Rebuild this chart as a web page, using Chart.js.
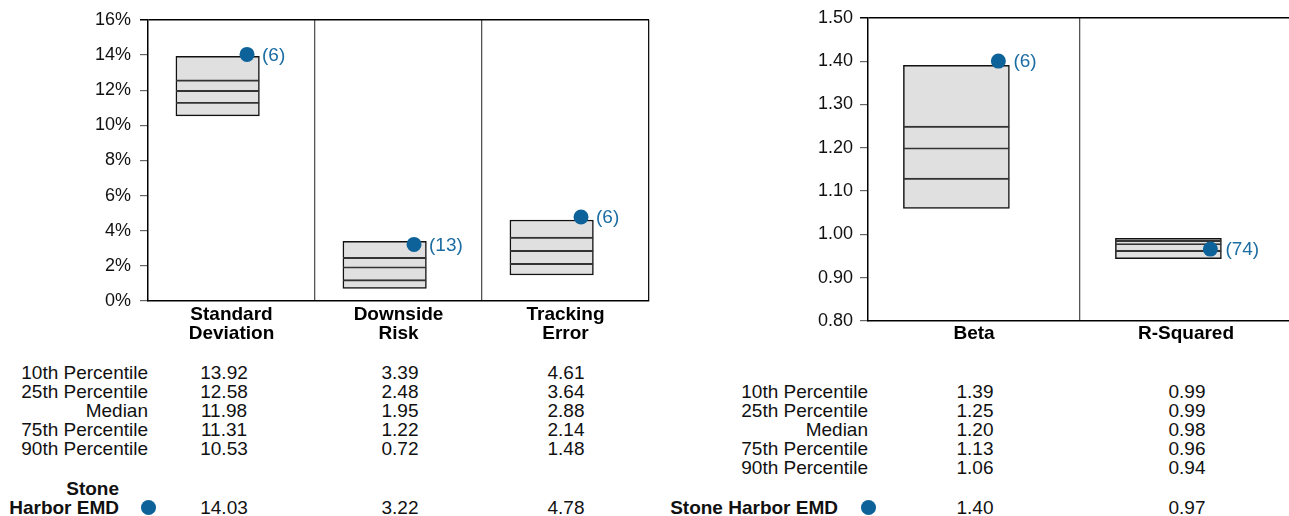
<!DOCTYPE html>
<html>
<head>
<meta charset="utf-8">
<script src="https://cdn.jsdelivr.net/npm/chart.js@4.4.1/dist/chart.umd.min.js"></script>
<style>
body { margin: 0; background: #fff; font-family: 'Liberation Sans', Arial, sans-serif; color: #111; }
#page { position: relative; width: 1289px; height: 516px; overflow: hidden; }
.box { position: absolute; top: 0; height: 350px; }
.t { position: absolute; font-size: 19px; line-height: 19px; white-space: nowrap; }
.r { text-align: right; }
.c { text-align: center; width: 100px; }
.b { font-weight: bold; }
.dot { position: absolute; width: 15px; height: 15px; border-radius: 50%; background: #0d6399; }
</style>
</head>
<body>
<div id="page">
  <div class="box" style="left:0;width:654px"><canvas id="leftChart"></canvas></div>
  <div class="box" style="left:660px;width:636px"><canvas id="rightChart"></canvas></div>
</div>
<script>
// row names of the tables under the charts
const rowNames = ['10th Percentile', '25th Percentile', 'Median', '75th Percentile', '90th Percentile'];
const fundName = 'Stone Harbor EMD';

// left panel: risk measures (%)
const leftCats = [['Standard', 'Deviation'], ['Downside', 'Risk'], ['Tracking', 'Error']];
const leftP10 = [13.92, 3.39, 4.61];
const leftP25 = [12.58, 2.48, 3.64];
const leftMed = [11.98, 1.95, 2.88];
const leftP75 = [11.31, 1.22, 2.14];
const leftP90 = [10.53, 0.72, 1.48];
const leftFund = [14.03, 3.22, 4.78];
const leftRank = [6, 13, 6];

// right panel: beta and r-squared
const rightCats = ['Beta', 'R-Squared'];
const rightP10 = [1.39, 0.991];
const rightP25 = [1.25, 0.986];
const rightMed = [1.20, 0.979];
const rightP75 = [1.13, 0.963];
const rightP90 = [1.06, 0.944];
const rightFund = [1.40, 0.966];
const rightRank = [6, 74];

const BOX_SHIFT = -0.083;
const BLUE = '#0d6399';
const NONE = 'rgba(0,0,0,0)';

const rankLabels = {
    id: 'rankLabels',
    afterDatasetsDraw(chart, args, opts) {
        const meta = chart.getDatasetMeta(opts.index);
        const ctx = chart.ctx;
        ctx.save();
        ctx.font = '19px "Liberation Sans", Arial, sans-serif';
        ctx.fillStyle = '#1b6da3';
        ctx.textBaseline = 'middle';
        ctx.textAlign = 'left';
        meta.data.forEach((pt, i) => {
            ctx.fillText('(' + opts.ranks[i] + ')', pt.x + 15, pt.y + 1);
        });
        ctx.restore();
    }
};

function makeChart(id, o) {
    const n = o.cats.length;
    const xs = o.cats.map((c, i) => i + 0.5);
    const barBase = {type: 'bar', grouped: false, barPercentage: 1, categoryPercentage: 1, borderSkipped: false};
    const datasets = [];
    // full 10th-90th box, drawn underneath
    datasets.push(Object.assign({}, barBase, {
        order: 3,
        data: xs.map((x, i) => ({x: x + BOX_SHIFT, y: [o.p90[i], o.p10[i]]})),
        backgroundColor: '#e0e0e0',
        borderColor: '#111',
        borderWidth: 1.5
    }));
    // 75th, median, 25th lines as the top edge of bars from the 90th
    [o.p75, o.med, o.p25].forEach(arr => {
        datasets.push(Object.assign({}, barBase, {
            order: 2,
            data: xs.map((x, i) => ({x: x + BOX_SHIFT, y: [o.p90[i], arr[i]]})),
            backgroundColor: NONE,
            borderColor: '#333',
            borderWidth: {top: 1.3, left: 0, right: 0, bottom: 0}
        }));
    });
    datasets.push({
        type: 'scatter',
        order: 0,
        data: xs.map((x, i) => ({x: x + o.dotShift, y: o.fund[i]})),
        pointRadius: 7.5,
        pointBackgroundColor: BLUE,
        pointBorderWidth: 0
    });

    return new Chart(document.getElementById(id), {
        type: 'bar',
        data: {datasets: datasets},
        plugins: [rankLabels],
        options: {
            responsive: true,
            maintainAspectRatio: false,
            animation: false,
            events: [],
            layout: {autoPadding: false, padding: {top: 17, left: 0, right: 0, bottom: 0}},
            plugins: {
                legend: {display: false},
                tooltip: {enabled: false},
                rankLabels: {index: datasets.length - 1, ranks: o.ranks}
            },
            scales: {
                x: {
                    type: 'linear', min: 0, max: n, offset: false,
                    ticks: {
                        stepSize: 0.5, autoSkip: false, maxRotation: 0, padding: o.xPad, color: '#000',
                        font: {size: 19, weight: 'bold', family: '"Liberation Sans", Arial, sans-serif', lineHeight: 0.96},
                        callback: v => (v % 1 === 0.5) ? o.cats[Math.floor(v)] : ''
                    },
                    grid: {
                        offset: false, drawTicks: false, lineWidth: 1.3,
                        color: c => {
                            const v = c.tick ? c.tick.value : 0;
                            if (v % 1 !== 0 || v === 0) return NONE;
                            if (v === n) return o.rightBorder ? '#111' : NONE;
                            return '#555';
                        }
                    },
                    border: {color: '#000', width: 1.5},
                    afterFit: s => { s.height = o.xHeight; }
                },
                y: {
                    min: o.min, max: o.max,
                    ticks: {
                        stepSize: o.step, padding: o.yPad, color: '#111',
                        font: {size: 18, family: '"Liberation Sans", Arial, sans-serif'},
                        callback: o.fmt
                    },
                    grid: {
                        tickLength: 8,
                        color: c => (c.tick && c.tick.value === o.max) ? '#000' : NONE,
                        tickColor: c => (c.tick && c.tick.value === o.max) ? '#000' : '#666',
                        lineWidth: c => (c.tick && c.tick.value === o.max) ? 1.5 : 1.2
                    },
                    border: {color: '#000', width: 1.5},
                    afterFit: s => { s.width = o.yWidth; }
                }
            }
        }
    });
}

makeChart('leftChart', {
    cats: leftCats, p10: leftP10, p25: leftP25, med: leftMed, p75: leftP75, p90: leftP90,
    fund: leftFund, ranks: leftRank, dotShift: 0.093,
    min: 0, max: 16, step: 2, fmt: v => v + '%',
    yWidth: 148, yPad: 9, xHeight: 49, xPad: 5, rightBorder: true
});

makeChart('rightChart', {
    cats: rightCats, p10: rightP10, p25: rightP25, med: rightMed, p75: rightP75, p90: rightP90,
    fund: rightFund, ranks: rightRank, dotShift: 0.115,
    min: 0.8, max: 1.5, step: 0.1, fmt: v => v.toFixed(2),
    yWidth: 208, yPad: 7, xHeight: 29, xPad: 4, rightBorder: false
});

// tables under the charts
const page = document.getElementById('page');
function addText(txt, cls, left, top) {
    const d = document.createElement('div');
    d.className = 't ' + cls;
    d.textContent = txt;
    d.style.left = left + 'px';
    d.style.top = top + 'px';
    page.appendChild(d);
    return d;
}
function addRight(txt, bold, rightEdge, centerY) {
    const d = addText(txt, 'r' + (bold ? ' b' : ''), 0, centerY - 9.5);
    d.style.left = 'auto';
    d.style.right = (1289 - rightEdge) + 'px';
}
function addDot(cx, cy) {
    const d = document.createElement('div');
    d.className = 'dot';
    d.style.left = (cx - 7.5) + 'px';
    d.style.top = (cy - 7.5) + 'px';
    page.appendChild(d);
}
function addTable(cols, labelRight, firstRowY, colCenters, fund, fundY) {
    rowNames.forEach((name, r) => {
        const y = firstRowY + r * 19;
        addRight(name, false, labelRight, y);
        cols[r].forEach((v, c) => addText(v.toFixed(2), 'c', colCenters[c] - 50, y - 9.5));
    });
    fund.forEach((v, c) => addText(v.toFixed(2), 'c', colCenters[c] - 50, fundY - 9.5));
}

addTable([leftP10, leftP25, leftMed, leftP75, leftP90], 148, 372, [224, 400, 566], leftFund, 507);
addRight('Stone', true, 119, 488);
addRight('Harbor EMD', true, 119, 507);
addDot(148, 507);

addTable([rightP10, rightP25, rightMed, rightP75, rightP90], 868, 391, [975, 1187], rightFund, 507);
addRight(fundName, true, 838, 507);
addDot(868, 507);
</script>
</body>
</html>
